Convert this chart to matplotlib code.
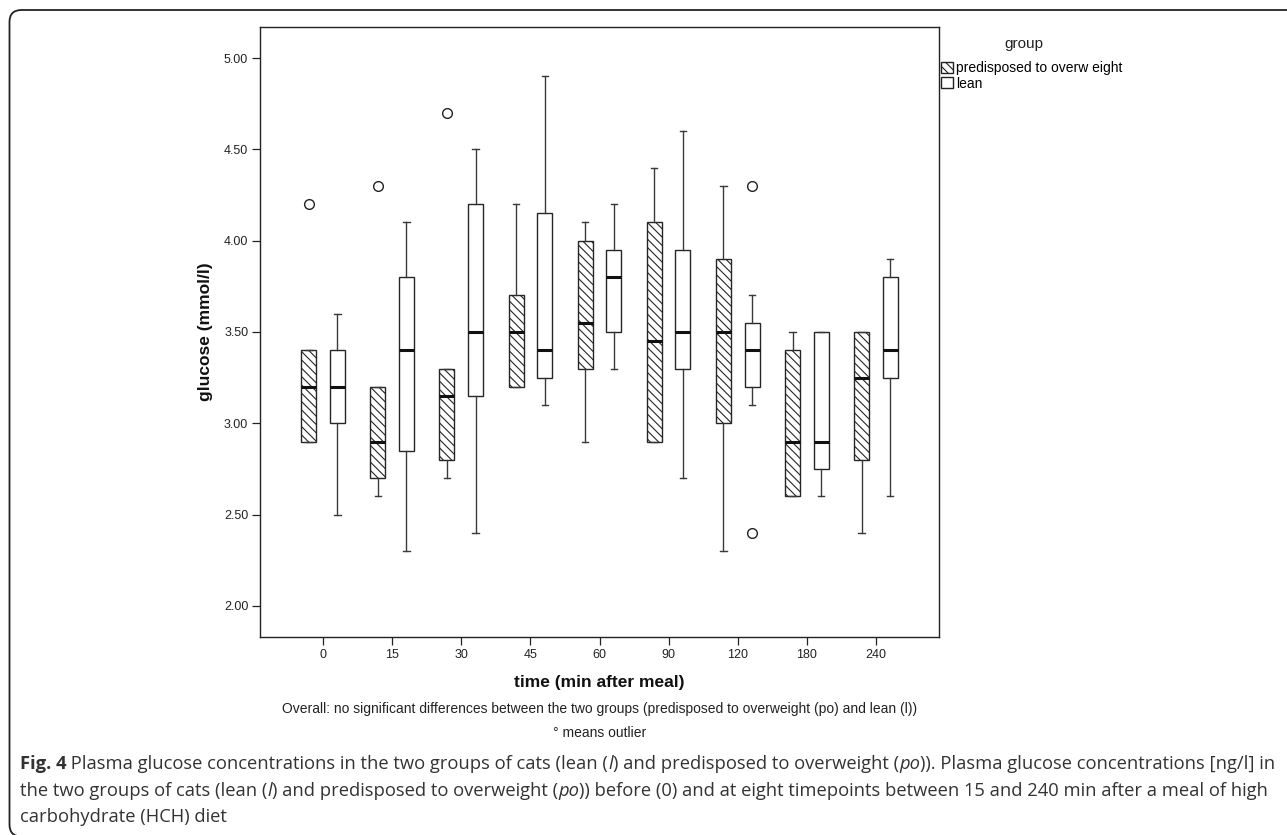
import matplotlib
matplotlib.use('Agg')
import matplotlib.pyplot as plt
from matplotlib.patches import Patch, FancyBboxPatch
from matplotlib.transforms import IdentityTransform
import numpy as np

# ---------------- data ----------------
times = ['0', '15', '30', '45', '60', '90', '120', '180', '240']

po_whislo = [2.90, 2.60, 2.70, 3.20, 2.90, 2.90, 2.30, 2.60, 2.40]
po_q1     = [2.90, 2.70, 2.80, 3.20, 3.30, 2.90, 3.00, 2.60, 2.80]
po_med    = [3.20, 2.90, 3.15, 3.50, 3.55, 3.45, 3.50, 2.90, 3.25]
po_q3     = [3.40, 3.20, 3.30, 3.70, 4.00, 4.10, 3.90, 3.40, 3.50]
po_whishi = [3.40, 3.20, 3.30, 4.20, 4.10, 4.40, 4.30, 3.50, 3.50]
po_fliers = [[4.20], [4.30], [4.70], [], [], [], [], [], []]

lean_whislo = [2.50, 2.30, 2.40, 3.10, 3.30, 2.70, 3.10, 2.60, 2.60]
lean_q1     = [3.00, 2.85, 3.15, 3.25, 3.50, 3.30, 3.20, 2.75, 3.25]
lean_med    = [3.20, 3.40, 3.50, 3.40, 3.80, 3.50, 3.40, 2.90, 3.40]
lean_q3     = [3.40, 3.80, 4.20, 4.15, 3.95, 3.95, 3.55, 3.50, 3.80]
lean_whishi = [3.60, 4.10, 4.50, 4.90, 4.20, 4.60, 3.70, 3.50, 3.90]
lean_fliers = [[], [], [], [], [], [], [4.30, 2.40], [], []]

yticks = [2.00, 2.50, 3.00, 3.50, 4.00, 4.50, 5.00]
group_labels = ['predisposed to overw eight', 'lean']

# ---------------- figure ----------------
W, H = 1287, 835
plt.rcParams['font.family'] = ['Liberation Sans', 'DejaVu Sans']
plt.rcParams['hatch.linewidth'] = 0.8
fig = plt.figure(figsize=(W / 100, H / 100), dpi=100)

# outer rounded border (open on right)
border = FancyBboxPatch((9.5, -1.5), 1400, H - 10 + 1.5, boxstyle="round,pad=0,rounding_size=12",
                        transform=IdentityTransform(), facecolor='none', edgecolor='#222222',
                        linewidth=1.3, figure=fig)
fig.patches.append(border)

ax = fig.add_axes([260 / W, 1 - 637 / H, (939 - 260) / W, (637 - 27) / H])


def make_stats(lo, q1, med, q3, hi, fl):
    return [dict(whislo=a, q1=b, med=c, q3=d, whishi=e, fliers=f)
            for a, b, c, d, e, f in zip(lo, q1, med, q3, hi, fl)]


po_stats = make_stats(po_whislo, po_q1, po_med, po_q3, po_whishi, po_fliers)
lean_stats = make_stats(lean_whislo, lean_q1, lean_med, lean_q3, lean_whishi, lean_fliers)

x = np.arange(len(times))
off = 0.207
bw = 0.217
edge = '#262626'
common = dict(widths=bw, capwidths=0.09, patch_artist=True, manage_ticks=False,
              whiskerprops=dict(color='#3a3a3a', linewidth=1.0),
              capprops=dict(color='#3a3a3a', linewidth=1.0),
              medianprops=dict(color='#111111', linewidth=2.2),
              flierprops=dict(marker='o', markerfacecolor='none', markeredgecolor='#222222',
                              markersize=7, markeredgewidth=1.0))

ax.bxp(po_stats, positions=x - off,
       boxprops=dict(facecolor='white', edgecolor=edge, hatch='\\\\\\\\', linewidth=1.0),
       **common)
ax.bxp(lean_stats, positions=x + off,
       boxprops=dict(facecolor='white', edgecolor=edge, linewidth=1.0),
       **common)

ax.set_xlim(-0.913, len(times) - 1 + 0.913)
ax.set_ylim(1.83, 5.17)
ax.set_xticks(x)
ax.set_xticklabels(times)
ax.set_yticks(yticks)
ax.set_yticklabels([f'{v:.2f}' for v in yticks])
ax.tick_params(direction='out', length=5.5, width=0.9, labelsize=9, colors='#222222', pad=3)
for s in ax.spines.values():
    s.set_linewidth(1.0)
    s.set_color('#222222')

ax.set_xlabel('time (min after meal)', fontsize=12.5, fontweight='bold', labelpad=10, color='#111111')
ax.set_ylabel('glucose (mmol/l)', fontsize=12.5, fontweight='bold', labelpad=8, color='#111111')

# legend
fig.text(1024 / W, 1 - 44 / H, 'group', ha='center', va='center', fontsize=11, color='#222222')
handles = [Patch(facecolor='white', edgecolor='#222222', hatch='\\\\\\\\', linewidth=1.0),
           Patch(facecolor='white', edgecolor='#222222', linewidth=1.0)]
leg = fig.legend(handles, group_labels, loc='upper left',
                 bbox_to_anchor=(941 / W, 1 - 61 / H), frameon=False, fontsize=10,
                 handlelength=0.86, handleheight=0.86, handletextpad=0.2,
                 labelspacing=0.12, borderpad=0.0, borderaxespad=0.0)

# notes under chart
fig.text(600 / W, 1 - 709 / H,
         'Overall: no significant differences between the two groups (predisposed to overweight (po) and lean (l))',
         ha='center', va='center', fontsize=10, color='#222222')
fig.text(600 / W, 1 - 733 / H, '° means outlier', ha='center', va='center', fontsize=10, color='#222222')

# caption with mixed styles
renderer = fig.canvas.get_renderer()
cap_family = ['Open Sans', 'DejaVu Sans']
cap_size = 13.2


def run_width(txt, style, weight):
    t1 = fig.text(0, 0, 'x' + txt + 'x', fontsize=cap_size, family=cap_family, style=style, weight=weight)
    t2 = fig.text(0, 0, 'xx', fontsize=cap_size, family=cap_family, style=style, weight=weight)
    w = t1.get_window_extent(renderer).width - t2.get_window_extent(renderer).width
    t1.remove()
    t2.remove()
    return w


def draw_runs(xpx, ypx, parts, color='#333333'):
    xx = xpx
    for txt, style, weight in parts:
        fig.text(xx / W, 1 - ypx / H, txt, fontsize=cap_size, family=cap_family, style=style,
                 weight=weight, color=color, va='baseline', ha='left')
        xx += run_width(txt, style, weight)


N, I, B = 'normal', 'italic', 'bold'
draw_runs(20, 769, [('Fig. 4', N, B),
                    (' Plasma glucose concentrations in the two groups of cats (lean (', N, N),
                    ('l', I, N), (') and predisposed to overweight (', N, N), ('po', I, N),
                    (')). Plasma glucose concentrations [ng/l] in', N, N)])
draw_runs(20, 796, [('the two groups of cats (lean (', N, N), ('l', I, N),
                    (') and predisposed to overweight (', N, N), ('po', I, N),
                    (')) before (0) and at eight timepoints between 15 and 240 min after a meal of high', N, N)])
draw_runs(20, 822, [('carbohydrate (HCH) diet', N, N)])

fig.savefig('out.png', dpi=100)
